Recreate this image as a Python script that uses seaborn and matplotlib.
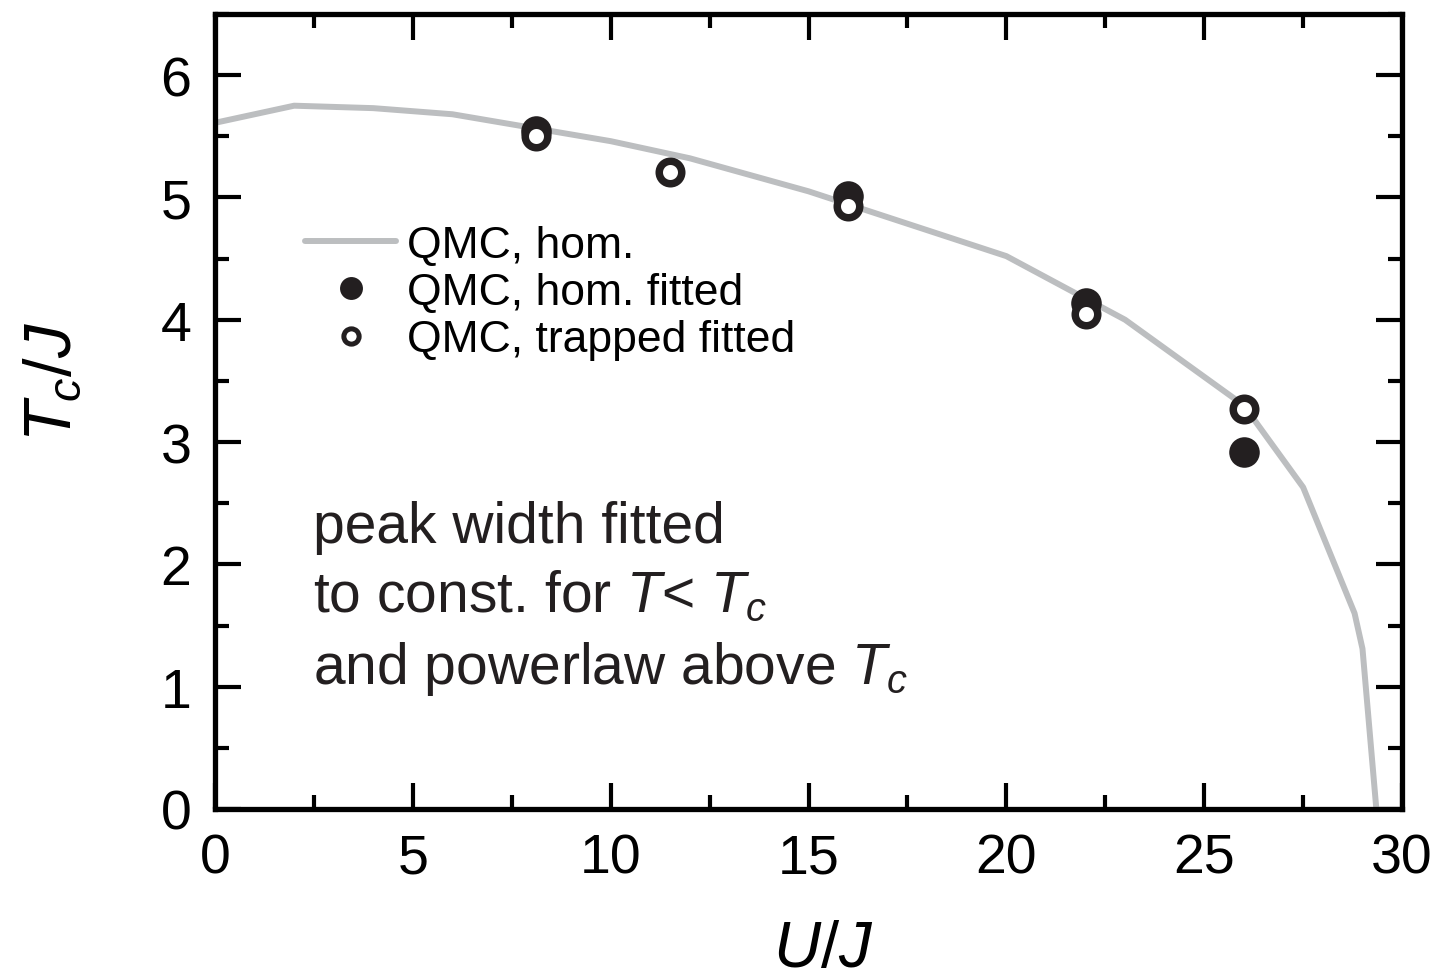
import matplotlib
matplotlib.use('Agg')
import matplotlib.pyplot as plt
import seaborn as sns
from matplotlib.lines import Line2D
from matplotlib.ticker import MultipleLocator

# ---- dados
U_line = [0, 2, 4, 6, 8, 10, 12, 15, 20, 23, 26, 27.5, 28.8, 29.0, 29.35]
T_line = [5.61, 5.75, 5.73, 5.68, 5.57, 5.46, 5.32, 5.05, 4.52, 4.0, 3.3, 2.63, 1.6, 1.31, 0.0]

hom_U = [8.1, 16, 22, 26]
hom_T = [5.54, 5.01, 4.14, 2.92]

trap_U = [8.1, 11.5, 16, 22, 26]
trap_T = [5.50, 5.21, 4.93, 4.05, 3.27]

labels = ['QMC, hom.', 'QMC, hom. fitted', 'QMC, trapped fitted']

# ---- estilo
sns.set_theme(style='ticks')
plt.rcParams['font.family'] = ['Liberation Sans', 'DejaVu Sans']
plt.rcParams['mathtext.fontset'] = 'custom'
plt.rcParams['mathtext.it'] = 'Liberation Sans:italic'
plt.rcParams['mathtext.rm'] = 'Liberation Sans'
plt.rcParams['text.color'] = 'black'
plt.rcParams['axes.labelcolor'] = 'black'
plt.rcParams['xtick.labelcolor'] = 'black'
plt.rcParams['ytick.labelcolor'] = 'black'

line_col = '#bcbec0'
ink = '#231f20'

fig = plt.figure(figsize=(14.42, 9.78), dpi=100)
ax = fig.add_axes([0.1491, 0.1718, 0.8232, 0.8129])

sns.lineplot(x=U_line, y=T_line, ax=ax, color=line_col, linewidth=4.3,
             sort=False, estimator=None, zorder=1)
sns.scatterplot(x=hom_U, y=hom_T, ax=ax, color=ink, s=22 ** 2,
                linewidth=0, zorder=3)
sns.scatterplot(x=trap_U, y=trap_T, ax=ax, facecolor='white', edgecolor=ink,
                s=16.2 ** 2, linewidth=5.4, zorder=4)

ax.set_xlim(0, 30)
ax.set_ylim(0, 6.5)
ax.xaxis.set_major_locator(MultipleLocator(5))
ax.xaxis.set_minor_locator(MultipleLocator(2.5))
ax.yaxis.set_major_locator(MultipleLocator(1))
ax.yaxis.set_minor_locator(MultipleLocator(0.5))

for s in ax.spines.values():
    s.set_linewidth(3.8)
    s.set_color('black')
    s.set_visible(True)

ax.tick_params(which='both', direction='in', top=True, right=True,
               width=3, color='black', labelcolor='black')
ax.tick_params(which='major', length=19, labelsize=40, pad=17)
ax.tick_params(which='minor', length=10)

ax.set_xlabel('$U/J$', fontsize=47, color='black')
ax.set_ylabel('$T_c/J$', fontsize=48, color='black')
ax.xaxis.set_label_coords(0.512, -0.139)
ax.yaxis.set_label_coords(-0.11, 0.538)

# legenda manual
handles = [
    Line2D([], [], color=line_col, linewidth=4.3),
    Line2D([], [], linestyle='none', marker='o', markersize=16.5,
           markerfacecolor=ink, markeredgewidth=0),
    Line2D([], [], linestyle='none', marker='o', markersize=11,
           markerfacecolor='white', markeredgecolor=ink, markeredgewidth=3.6),
]
leg = ax.legend(handles, labels, loc='upper left', bbox_to_anchor=(0.0758, 0.735),
                frameon=False, fontsize=32, handlelength=2.05, handletextpad=0.25,
                borderpad=0, borderaxespad=0, labelspacing=0.14)
for t in leg.get_texts():
    t.set_color('black')

ax.text(2.47, 2.53,
        'peak width fitted\nto const. for $T$< $T_c$\nand powerlaw above $T_c$',
        fontsize=41, color=ink, ha='left', va='top', linespacing=1.36)

fig.savefig('out.png', dpi=100)
